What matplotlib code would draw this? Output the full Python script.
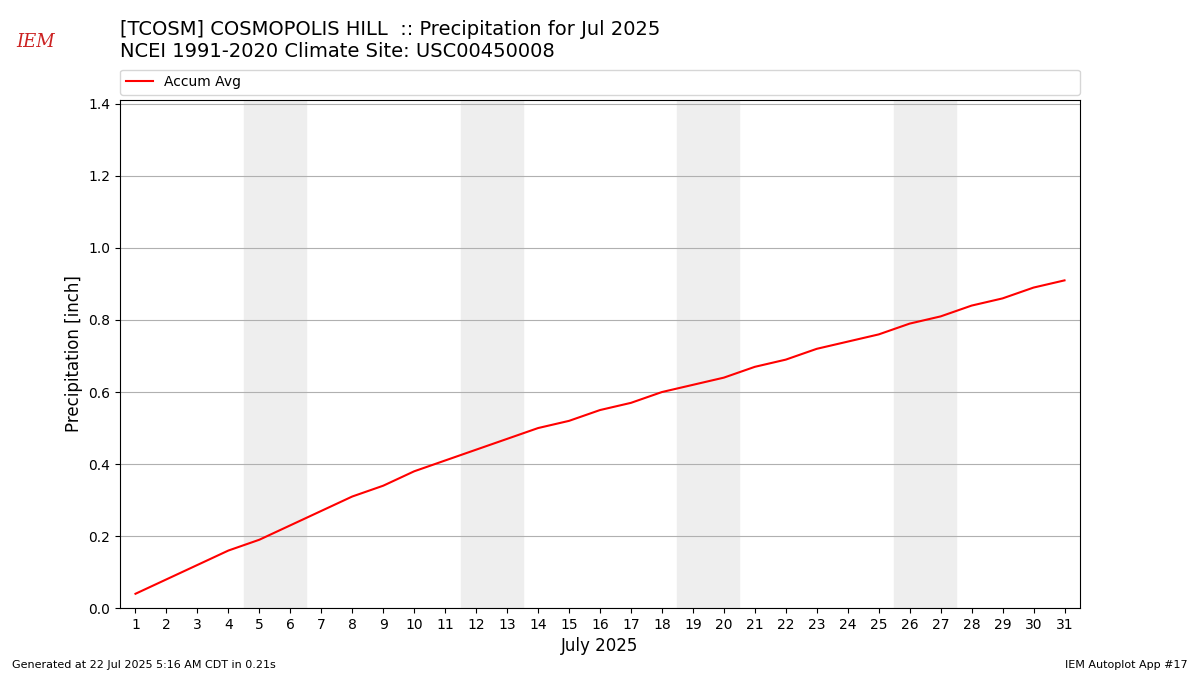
import matplotlib
matplotlib.use("Agg")
import matplotlib.pyplot as plt

days = list(range(1, 32))
accum_avg = [0.04, 0.08, 0.12, 0.16, 0.19, 0.23, 0.27, 0.31, 0.34, 0.38, 0.41, 0.44, 0.47, 0.50,
             0.52, 0.55, 0.57, 0.60, 0.62, 0.64, 0.67, 0.69, 0.72, 0.74, 0.76, 0.79, 0.81, 0.84,
             0.86, 0.89, 0.91]
weekends = [5, 12, 19, 26]

fig = plt.figure(figsize=(12, 6.75), dpi=100)
ax = fig.add_axes([0.1, 0.099, 0.8, 0.753])
for w in weekends:
    ax.axvspan(w - 0.5, w + 1.5, color="#eeeeee", zorder=0)
ax.plot(days, accum_avg, color="red", label="Accum Avg", zorder=3)
ax.set_xlim(0.5, 31.5)
ax.set_ylim(0, 1.411)
ax.set_xticks(days)
ax.set_yticks([0, 0.2, 0.4, 0.6, 0.8, 1.0, 1.2, 1.4])
ax.grid(axis="y", color="#b0b0b0")
ax.set_axisbelow(True)
ax.set_xlabel("July 2025", fontsize=12)
ax.set_ylabel("Precipitation [inch]", fontsize=12)
ax.legend(loc="lower left", bbox_to_anchor=(0, 1.01, 1, 0.05), mode="expand",
          ncol=1, borderaxespad=0, fontsize=10)
fig.text(0.1, 0.91, "[TCOSM] COSMOPOLIS HILL  :: Precipitation for Jul 2025\nNCEI 1991-2020 Climate Site: USC00450008",
         fontsize=14, va="bottom")
fig.text(0.01, 0.01, "Generated at 22 Jul 2025 5:16 AM CDT in 0.21s", fontsize=8)
fig.text(0.99, 0.01, "IEM Autoplot App #17", fontsize=8, ha="right")
fig.text(0.03, 0.93, "IEM", fontsize=13, color="#cc2222", fontstyle="italic", family="DejaVu Serif", ha="center")
fig.savefig("out.png")
